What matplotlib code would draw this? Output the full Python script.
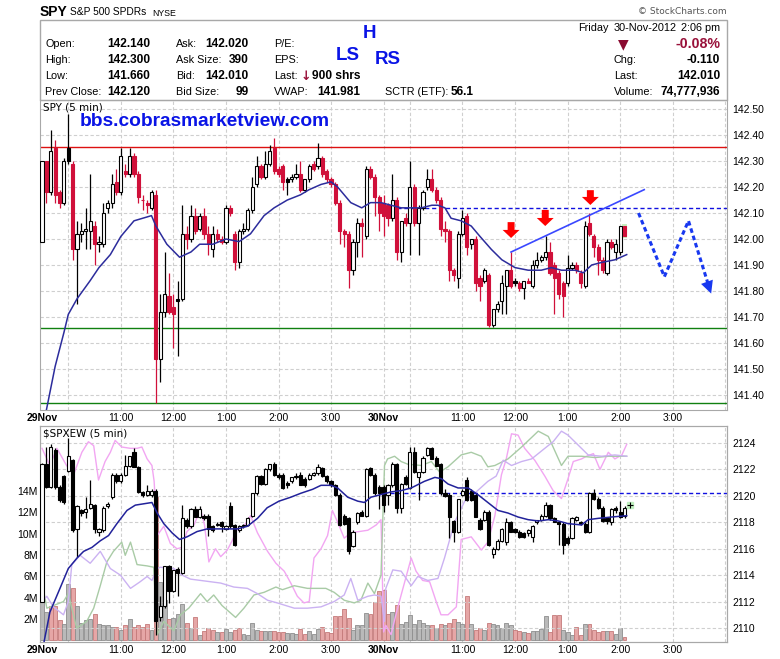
import numpy as np
import matplotlib
matplotlib.use("Agg")
import matplotlib.pyplot as plt
from matplotlib.patches import Rectangle

plt.rcParams['font.family'] = ['Liberation Sans', 'DejaVu Sans']

W, H = 780, 659

# ---- SPY 5 min candles, 29 Nov (0..77) and 30 Nov (78..133) ----
spy_open = [141.99, 142.30, 142.18, 142.35, 142.18, 142.14, 142.35, 142.29, 141.96, 142.02,
            142.03, 142.03, 142.05, 141.98, 141.98, 142.12, 142.14, 142.22, 142.18, 142.26,
            142.25, 142.32, 142.25, 142.15, 142.14, 142.12, 142.17, 141.54, 141.72, 141.78,
            141.74, 141.77, 141.77, 142.02, 142.00, 142.09, 142.04, 142.09, 142.02, 141.96,
            142.02, 142.00, 141.99, 142.12, 142.02, 141.91, 142.03, 142.04, 142.11, 142.21,
            142.28, 142.24, 142.29, 142.35, 142.27, 142.28, 142.23, 142.23, 142.24, 142.25,
            142.19, 142.23, 142.29, 142.28, 142.31, 142.26, 142.23, 142.21, 142.14, 142.03,
            142.02, 141.88, 141.99, 142.06, 142.01, 142.27, 142.24, 142.16,
            142.14, 142.13, 142.08, 142.15, 141.95, 142.08, 142.06, 142.20, 142.06, 142.12,
            142.20, 142.23, 142.19, 142.15, 142.04, 142.03, 141.88, 141.85, 142.02, 142.09,
            141.98, 142.00, 141.85, 141.84, 141.86, 141.67, 141.73, 141.76, 141.82, 141.88,
            141.84, 141.83, 141.81, 141.84, 141.82, 141.90, 141.92, 141.93, 141.95, 141.90,
            141.87, 141.83, 141.83, 141.89, 141.90, 141.87, 141.82, 142.06, 142.01, 141.97,
            141.92, 141.87, 141.99, 141.95, 141.95, 142.05]
spy_high = [142.30, 142.30, 142.42, 142.38, 142.19, 142.31, 142.48, 142.30, 142.07, 142.06,
            142.12, 142.25, 142.07, 142.01, 142.14, 142.15, 142.25, 142.27, 142.35, 142.29,
            142.35, 142.33, 142.26, 142.17, 142.15, 142.19, 142.19, 141.79, 141.95, 141.87,
            141.79, 141.84, 142.13, 142.05, 142.13, 142.12, 142.10, 142.12, 142.05, 142.05,
            142.04, 142.01, 142.13, 142.13, 142.03, 142.04, 142.06, 142.12, 142.24, 142.32,
            142.29, 142.34, 142.36, 142.39, 142.28, 142.29, 142.24, 142.25, 142.29, 142.30,
            142.23, 142.29, 142.30, 142.37, 142.32, 142.27, 142.24, 142.22, 142.15, 142.04,
            142.03, 142.00, 142.08, 142.08, 142.28, 142.28, 142.25, 142.17,
            142.17, 142.14, 142.25, 142.16, 142.07, 142.10, 142.30, 142.21, 142.13, 142.19,
            142.27, 142.27, 142.20, 142.16, 142.07, 142.04, 141.89, 142.03, 142.11, 142.10,
            142.00, 142.01, 141.86, 141.89, 141.87, 141.73, 141.76, 141.86, 141.88, 141.95,
            141.85, 141.84, 141.84, 141.85, 141.92, 141.95, 141.94, 142.01, 141.99, 141.91,
            141.88, 141.84, 141.94, 141.91, 141.91, 141.88, 142.07, 142.10, 142.02, 141.98,
            141.93, 142.00, 142.00, 142.00, 142.05, 142.05]
spy_low = [141.99, 142.14, 142.17, 142.14, 142.12, 142.13, 142.29, 141.92, 141.75, 141.99,
           141.96, 141.96, 141.90, 141.95, 141.97, 142.10, 142.12, 142.17, 142.17, 142.24,
           142.24, 142.24, 142.14, 142.11, 142.10, 142.11, 141.37, 141.45, 141.70, 141.71,
           141.58, 141.55, 141.76, 141.96, 141.99, 142.02, 142.03, 142.00, 141.94, 141.93,
           141.99, 141.98, 141.98, 142.09, 141.88, 141.89, 142.02, 142.03, 142.10, 142.20,
           142.23, 142.23, 142.28, 142.25, 142.24, 142.19, 142.17, 142.22, 142.23, 142.18,
           142.18, 142.22, 142.26, 142.27, 142.24, 142.22, 142.20, 142.13, 141.98, 141.97,
           141.81, 141.86, 141.93, 141.93, 142.00, 142.23, 142.09, 142.03,
           142.01, 142.05, 142.07, 141.92, 141.91, 142.05, 141.94, 142.05, 141.94, 142.11,
           142.19, 142.18, 142.14, 142.01, 141.99, 141.84, 141.84, 141.81, 142.01, 141.94,
           141.96, 141.80, 141.76, 141.83, 141.66, 141.66, 141.72, 141.71, 141.71, 141.81,
           141.82, 141.80, 141.77, 141.83, 141.81, 141.89, 141.91, 141.92, 141.86, 141.71,
           141.77, 141.70, 141.82, 141.88, 141.87, 141.81, 141.81, 142.01, 141.93, 141.86,
           141.87, 141.86, 141.96, 141.92, 141.94, 142.01]
spy_close = [142.30, 142.18, 142.34, 142.17, 142.14, 142.30, 142.30, 141.96, 142.02, 142.03,
             142.04, 142.07, 141.98, 141.99, 142.10, 142.14, 142.21, 142.18, 142.32, 142.25,
             142.32, 142.25, 142.16, 142.15, 142.13, 142.18, 141.54, 141.72, 141.79, 141.72,
             141.71, 141.76, 142.02, 142.00, 142.09, 142.03, 142.09, 142.02, 141.98, 142.02,
             142.00, 141.99, 142.12, 142.10, 141.91, 142.03, 142.04, 142.11, 142.20, 142.28,
             142.24, 142.29, 142.34, 142.26, 142.25, 142.22, 142.22, 142.24, 142.25, 142.19,
             142.23, 142.28, 142.27, 142.31, 142.25, 142.23, 142.21, 142.14, 142.03, 142.02,
             141.88, 141.99, 142.06, 142.05, 142.27, 142.24, 142.16, 142.10,
             142.09, 142.08, 142.15, 141.95, 142.07, 142.06, 142.20, 142.06, 142.12, 142.18,
             142.23, 142.19, 142.15, 142.04, 142.03, 141.88, 141.86, 142.02, 142.08, 141.97,
             142.00, 141.83, 141.82, 141.88, 141.67, 141.73, 141.75, 141.83, 141.88, 141.82,
             141.83, 141.81, 141.84, 141.83, 141.90, 141.92, 141.93, 141.95, 141.87, 141.85,
             141.79, 141.78, 141.89, 141.90, 141.88, 141.83, 142.05, 142.02, 141.97, 141.92,
             141.88, 141.99, 141.97, 141.98, 142.05, 142.01]
spy_prev_close = 142.12

# moving average (bar index, price)
spy_ma_x = [0.5, 3, 5, 6, 8, 11, 13, 15.6, 18, 21, 23, 25, 26, 28.5, 31.4, 34, 36, 39, 42, 45,
            47.6, 50.7, 53, 56, 59, 61, 63.7, 66, 67.5, 70.5, 73, 75, 77.4, 79.7, 82, 86.6, 89,
            90.4, 92, 93.4, 95.7, 98, 100, 102.6, 105, 108, 111, 114, 116.3, 118.6, 121.7,
            123.6, 125.5, 127.8, 130.8, 133.5]
spy_ma_y = [141.30, 141.51, 141.64, 141.71, 141.77, 141.84, 141.89, 141.94, 142.01, 142.07,
            142.08, 142.09, 142.05, 141.98, 141.93, 141.95, 141.98, 141.98, 142.00, 141.99,
            142.02, 142.09, 142.12, 142.15, 142.17, 142.19, 142.21, 142.22, 142.20, 142.14,
            142.12, 142.14, 142.14, 142.13, 142.12, 142.12, 142.13, 142.13, 142.12, 142.08,
            142.07, 142.05, 142.01, 141.96, 141.92, 141.89, 141.88, 141.88, 141.89, 141.88,
            141.88, 141.87, 141.90, 141.91, 141.92, 141.94]

# reference levels
resist_level = 142.353
low_level = 141.656
day_low_level = 141.368

# annotations drawn on the chart
trend_x = [107.1, 137.5]
trend_y = [141.95, 142.19]
proj_x = [136.2, 142.1, 147.6, 153.0]
proj_y = [142.10, 141.855, 142.07, 141.78]
arrow_x = [107.1, 114.9, 125.2]
arrow_top = [142.065, 142.112, 142.188]
arrow_tip = [142.004, 142.05, 142.131]

# ---- $SPXEW 5 min candles ----
ew_open = [2112.0, 2122.4, 2120.7, 2123.5, 2120.7, 2121.5, 2121.9, 2122.7, 2117.5, 2118.9,
           2118.8, 2119.1, 2119.3, 2117.3, 2117.4, 2119.2, 2119.9, 2121.6, 2121.1, 2121.6,
           2122.3, 2123.3, 2122.2, 2120.3, 2120.1, 2120.1, 2120.4, 2110.8, 2111.7, 2114.7,
           2112.8, 2114.5, 2114.2, 2118.2, 2117.7, 2119.0, 2118.4, 2118.5, 2118.5, 2117.7,
           2117.8, 2118.0, 2117.5, 2119.2, 2117.8, 2117.4, 2117.7, 2117.8, 2118.5, 2120.2,
           2121.5, 2120.9, 2122.0, 2122.4, 2121.6, 2121.6, 2121.0, 2121.1, 2121.4, 2121.6,
           2121.3, 2121.3, 2121.6, 2121.7, 2122.1, 2121.5, 2121.1, 2120.8, 2120.1, 2118.5,
           2118.3, 2116.2, 2118.0, 2118.8, 2118.5, 2122.1, 2121.6, 2120.7,
           2120.7, 2120.1, 2120.8, 2122.4, 2119.1, 2121.4, 2120.6, 2123.3, 2121.4, 2121.8,
           2123.1, 2123.6, 2122.9, 2122.4, 2120.2, 2120.1, 2118.1, 2117.3, 2120.1, 2121.2,
           2120.4, 2120.1, 2118.2, 2118.2, 2118.8, 2115.6, 2116.0, 2116.6, 2116.5, 2118.0,
           2117.5, 2117.3, 2117.2, 2117.2, 2116.9, 2118.0, 2118.2, 2118.5, 2119.3, 2118.3,
           2118.0, 2117.9, 2116.8, 2116.8, 2118.2, 2118.0, 2117.9, 2117.3, 2120.2, 2119.8,
           2119.1, 2118.3, 2118.0, 2119.1, 2118.8, 2118.5]
ew_high = [2122.5, 2123.7, 2123.9, 2123.6, 2120.8, 2121.6, 2124.4, 2122.8, 2119.3, 2119.0,
           2119.9, 2121.2, 2119.4, 2117.6, 2119.2, 2119.5, 2121.7, 2121.7, 2121.7, 2123.1,
           2123.0, 2123.6, 2122.3, 2120.4, 2120.8, 2120.5, 2120.5, 2112.4, 2114.7, 2114.8,
           2114.4, 2114.6, 2119.3, 2118.3, 2119.1, 2119.2, 2119.2, 2118.6, 2118.6, 2117.8,
           2118.0, 2118.1, 2117.8, 2119.5, 2117.9, 2117.8, 2117.9, 2118.4, 2120.2, 2121.6,
           2121.6, 2122.1, 2122.4, 2122.6, 2121.7, 2121.7, 2121.1, 2121.4, 2121.7, 2121.8,
           2121.4, 2121.7, 2121.8, 2122.4, 2122.2, 2121.6, 2121.2, 2120.9, 2120.2, 2118.6,
           2118.4, 2117.4, 2118.8, 2118.9, 2122.1, 2122.2, 2121.7, 2120.8,
           2120.8, 2120.9, 2122.6, 2122.5, 2121.0, 2121.6, 2123.7, 2123.7, 2121.8, 2123.0,
           2123.7, 2123.7, 2123.0, 2122.5, 2120.5, 2120.2, 2118.2, 2119.8, 2120.5, 2121.4,
           2120.5, 2120.2, 2118.3, 2118.9, 2118.9, 2116.1, 2116.7, 2117.6, 2118.3, 2118.1,
           2117.6, 2117.4, 2117.3, 2117.5, 2117.8, 2118.2, 2118.6, 2119.5, 2119.4, 2118.4,
           2118.1, 2118.0, 2117.0, 2118.4, 2118.5, 2118.1, 2118.0, 2120.3, 2120.5, 2119.9,
           2119.2, 2118.4, 2119.1, 2119.2, 2119.6, 2119.2]
ew_low = [2112.0, 2120.6, 2120.6, 2120.5, 2119.5, 2119.4, 2121.8, 2117.3, 2115.4, 2118.5,
          2118.3, 2119.0, 2117.2, 2117.0, 2117.3, 2119.1, 2119.8, 2121.0, 2121.0, 2121.5,
          2122.2, 2122.2, 2120.2, 2119.9, 2120.0, 2119.9, 2109.5, 2110.5, 2111.5, 2111.9,
          2112.7, 2112.4, 2114.1, 2117.6, 2117.6, 2118.4, 2118.3, 2118.2, 2117.0, 2117.3,
          2117.7, 2117.3, 2117.4, 2117.6, 2116.2, 2117.3, 2117.6, 2117.7, 2118.4, 2120.1,
          2120.8, 2120.8, 2121.9, 2121.5, 2121.3, 2120.5, 2120.6, 2121.0, 2121.3, 2120.8,
          2120.7, 2121.2, 2121.5, 2121.6, 2121.4, 2121.0, 2120.7, 2120.0, 2117.7, 2117.8,
          2115.6, 2116.1, 2117.9, 2118.5, 2118.4, 2121.5, 2120.1, 2119.0,
          2118.8, 2119.3, 2120.7, 2118.7, 2118.7, 2120.8, 2120.5, 2121.7, 2119.7, 2121.7,
          2123.0, 2122.8, 2122.3, 2120.1, 2119.9, 2116.8, 2116.5, 2117.2, 2120.0, 2119.6,
          2119.6, 2118.4, 2117.4, 2118.1, 2116.2, 2115.3, 2115.9, 2116.5, 2116.3, 2117.3,
          2117.2, 2116.8, 2116.8, 2117.0, 2116.5, 2117.9, 2118.1, 2118.4, 2118.2, 2118.0,
          2116.3, 2115.6, 2116.3, 2116.7, 2118.1, 2117.8, 2117.2, 2117.2, 2119.7, 2119.0,
          2118.0, 2117.9, 2117.8, 2118.7, 2118.3, 2118.3]
ew_close = [2122.4, 2120.7, 2123.7, 2120.7, 2119.7, 2119.5, 2123.0, 2117.4, 2119.2, 2118.7,
            2119.0, 2119.4, 2117.5, 2117.5, 2119.1, 2119.4, 2121.6, 2121.1, 2121.6, 2122.3,
            2123.0, 2122.2, 2120.3, 2120.1, 2120.4, 2120.4, 2110.5, 2111.7, 2114.7, 2112.8,
            2114.4, 2114.2, 2118.3, 2117.7, 2119.0, 2118.4, 2119.0, 2118.3, 2117.5, 2117.4,
            2117.9, 2117.7, 2117.7, 2117.7, 2116.3, 2117.7, 2117.8, 2118.3, 2120.2, 2121.5,
            2120.9, 2122.0, 2122.4, 2121.6, 2121.4, 2120.6, 2120.8, 2121.4, 2121.5, 2120.8,
            2120.8, 2121.6, 2121.7, 2122.2, 2121.5, 2121.1, 2120.8, 2120.1, 2117.8, 2117.9,
            2115.8, 2117.3, 2118.7, 2118.5, 2122.0, 2121.6, 2120.2, 2120.2,
            2119.3, 2120.8, 2122.4, 2119.1, 2120.9, 2120.9, 2123.3, 2121.8, 2121.8, 2122.9,
            2123.6, 2122.8, 2122.3, 2120.2, 2120.0, 2118.4, 2117.3, 2119.8, 2120.4, 2119.7,
            2119.7, 2118.4, 2117.5, 2118.8, 2116.3, 2116.0, 2116.6, 2117.5, 2118.0, 2117.3,
            2117.3, 2116.9, 2116.9, 2117.4, 2117.7, 2118.2, 2118.5, 2119.3, 2118.3, 2118.0,
            2117.9, 2116.3, 2116.4, 2118.3, 2118.4, 2117.9, 2117.3, 2120.2, 2119.8, 2119.1,
            2118.1, 2118.1, 2119.0, 2118.9, 2118.4, 2119.1]

ew_ma_x = [0.2, 1.8, 4.1, 6, 8, 9.5, 11.4, 13.3, 15.2, 17.1, 19.4, 21.3, 23.2, 25.1, 26.3, 27.8,
           29.7, 31.4, 33.1, 35.4, 37.7, 40, 42.3, 44.6, 46.9, 49.2, 51.4, 54.1, 56.8, 59.1, 61.8,
           63.7, 66, 67.5, 69.8, 72.1, 73.6, 75.1, 77.4, 79.7, 82, 84.3, 87.3, 89.7, 91.2, 92.7,
           95, 97.3, 99.5, 101.8, 104.1, 106.4, 108.7, 111, 113.3, 115.6, 117.9, 120.1, 123.2,
           124.7, 127, 130, 133.5]
ew_ma_y = [2108.5, 2111.2, 2113.0, 2114.5, 2115.3, 2115.8, 2116.1, 2116.6, 2117.0, 2117.9,
           2118.9, 2119.3, 2119.4, 2119.5, 2118.7, 2117.9, 2117.2, 2116.7, 2116.9, 2117.3,
           2117.5, 2117.5, 2117.5, 2117.5, 2117.7, 2118.3, 2119.1, 2119.6, 2119.9, 2120.2,
           2120.5, 2120.8, 2120.8, 2120.6, 2119.9, 2119.6, 2119.5, 2119.9, 2120.1, 2120.3,
           2120.4, 2120.6, 2121.1, 2121.4, 2121.3, 2120.9, 2120.6, 2120.6, 2120.1, 2119.5,
           2118.9, 2118.7, 2118.4, 2118.2, 2118.1, 2118.2, 2118.1, 2117.9, 2117.8, 2118.2,
           2118.3, 2118.4, 2118.5]
ew_prev_level = 2120.19

# faint overlay lines in the lower panel (bar index, value on the right scale)
pink_x = [0, 1.8, 3.4, 5.6, 7.2, 9.1, 10.6, 11.8, 12.9, 14.4, 15.6, 16.7, 18.2, 20.2, 21.7, 22.8,
          24.0, 25.1, 25.6, 26.3, 27.8, 29.3, 30.8, 32.0, 33.1, 34.7, 36.2, 37.1, 38.1, 39.6,
          40.8, 42.3, 43.4, 44.6, 46.1, 47.6, 49.2, 51.5, 53.4, 55.3, 56.8, 58.3, 59.8, 61.0,
          62.1, 63.7, 65.2, 66.3, 67.5, 69.0, 70.5, 72.4, 74.4, 76.3, 77.4, 78.0, 78.5, 79.7,
          80.8, 82.0, 84.3, 85.4, 86.9, 88.5, 90.0, 91.1, 92.7, 94.6, 95.7, 98.0, 100.3, 101.8,
          103.4, 104.9, 106.0, 107.2, 108.7, 110.2, 112.5, 114.8, 116.7, 118.6, 120.1, 121.3,
          123.2, 124.3, 125.9, 127.4, 129.3, 130.8, 132.4, 133.5]
pink_y = [2123.6, 2122.3, 2123.6, 2122.3, 2121.6, 2123.3, 2124.1, 2123.8, 2121.2, 2122.6,
          2123.3, 2124.2, 2123.7, 2123.6, 2123.6, 2123.7, 2122.8, 2122.3, 2121.1, 2117.0,
          2117.7, 2116.4, 2116.0, 2116.1, 2117.3, 2117.8, 2119.0, 2117.8, 2115.0, 2116.0,
          2115.4, 2115.9, 2116.6, 2117.5, 2117.7, 2118.5, 2117.2, 2115.8, 2114.9, 2114.3,
          2113.4, 2112.4, 2111.9, 2112.0, 2115.3, 2116.0, 2117.0, 2118.9, 2118.0, 2116.8,
          2117.2, 2117.3, 2117.4, 2117.8, 2118.2, 2109.7, 2110.2, 2109.5, 2111.0, 2112.5,
          2115.3, 2114.3, 2113.6, 2113.5, 2112.0, 2111.0, 2111.0, 2111.6, 2116.7, 2116.9,
          2115.9, 2116.5, 2118.5, 2121.6, 2122.8, 2124.7, 2124.6, 2123.6, 2122.7, 2121.5,
          2120.4, 2119.8, 2121.3, 2122.6, 2122.8, 2123.0, 2123.2, 2122.0, 2123.3, 2122.8,
          2123.1, 2123.9]
green_x = [0, 1.1, 4.9, 6.0, 7.9, 10.2, 11.8, 13.3, 14.8, 16.3, 18.2, 19.0, 20.2, 21.7, 24.0,
           25.5, 26.3, 27.8, 30.1, 31.6, 33.5, 36.2, 37.7, 39.2, 41.1, 44.2, 46.1, 48.4, 50.7,
           53.4, 54.9, 57.6, 60.6, 64.8, 66.7, 69.0, 71.3, 72.8, 74.4, 75.9, 77.4, 78.2, 78.9,
           80.5, 82.0, 83.5, 86.6, 88.9, 90.8, 92.7, 95.7, 98.0, 100.3, 101.8, 103.4, 106.4,
           109.5, 113.3, 115.6, 118.6, 120.1, 123.2, 126.3, 129.3, 133.5]
green_y = [2113.5, 2111.5, 2112.0, 2112.6, 2110.0, 2110.5, 2111.5, 2113.2, 2115.0, 2115.8,
           2116.5, 2115.5, 2116.5, 2114.8, 2114.7, 2114.6, 2109.5, 2110.5, 2109.8, 2111.0,
           2111.5, 2112.6, 2112.0, 2112.5, 2111.7, 2110.8, 2111.5, 2112.5, 2112.7, 2113.1,
           2112.9, 2113.2, 2113.0, 2113.0, 2112.7, 2112.1, 2111.9, 2112.1, 2113.4, 2112.6,
           2114.0, 2122.3, 2122.8, 2123.0, 2122.6, 2122.4, 2122.3, 2122.6, 2121.8, 2122.2,
           2123.1, 2123.3, 2123.0, 2122.2, 2122.3, 2122.8, 2123.7, 2124.9, 2124.5, 2122.3,
           2123.0, 2123.0, 2122.9, 2123.0, 2123.0]
purple_x = [0, 1.1, 2.6, 4.9, 6.0, 6.8, 8.7, 11.0, 13.3, 15.6, 17.9, 20.2, 22.4, 24.0, 25.1,
            26.3, 27.0, 30.1, 32.0, 33.9, 36.2, 38.5, 40.8, 43.8, 46.9, 49.2, 51.5, 53.7, 57.6,
            60.6, 63.7, 66.7, 69.0, 70.5, 72.1, 74.4, 75.9, 77.4, 78.2, 78.5, 80.1, 82.0, 84.3,
            85.8, 88.1, 90.4, 91.9, 94.2, 96.5, 98.8, 101.8, 103.7, 105.3, 107.2, 109.5, 111.8,
            114.8, 116.7, 118.6, 120.1, 122.4, 124.7, 127.8, 130.8, 133.5]
purple_y = [2112.0, 2112.4, 2111.6, 2111.0, 2112.0, 2114.8, 2115.5, 2114.9, 2115.8, 2114.5,
            2114.0, 2113.0, 2113.5, 2113.9, 2113.6, 2114.5, 2114.6, 2114.5, 2114.0, 2113.7,
            2113.6, 2113.5, 2113.4, 2113.1, 2113.0, 2112.6, 2112.1, 2111.9, 2111.5, 2111.5,
            2111.6, 2112.0, 2112.5, 2113.75, 2112.1, 2112.4, 2112.5, 2112.4, 2110.5, 2113.0,
            2114.4, 2114.3, 2113.2, 2113.9, 2113.6, 2113.75, 2115.3, 2118.0, 2119.6, 2120.2,
            2121.1, 2121.5, 2122.7, 2122.3, 2122.6, 2122.8, 2123.6, 2124.1, 2124.9, 2124.6,
            2123.85, 2123.1, 2123.0, 2123.1, 2123.0]

# volume in millions, r = down bar, g = up bar
volume = [4.6, 2.7, 3.2, 3.2, 1.9, 1.5, 5.3, 4.9, 3.25, 1.6,
          1.9, 2.0, 2.5, 1.5, 1.4, 1.4, 1.25, 1.25, 1.0, 1.4,
          2.0, 1.25, 1.4, 1.25, 1.5, 1.0, 13.5, 5.5, 3.75, 2.0,
          2.1, 2.5, 3.4, 1.6, 1.2, 2.2, 0.5, 0.9, 1.2, 1.0,
          0.8, 0.8, 1.1, 0.8, 1.0, 1.2, 0.6, 0.5, 1.6, 1.0,
          0.9, 0.9, 0.9, 0.9, 0.8, 0.8, 0.7, 0.7, 0.6, 1.1,
          0.6, 0.9, 0.6, 1.1, 1.25, 0.8, 0.7, 2.3, 2.3, 2.9,
          2.1, 1.0, 1.4, 1.4, 2.6, 2.5, 3.6, 4.6,
          4.7, 2.5, 2.65, 3.3, 1.5, 1.7, 2.4, 1.5, 1.9, 1.6,
          1.4, 1.4, 1.2, 1.55, 1.4, 1.6, 2.0, 1.7, 1.55, 4.2,
          1.5, 0.95, 1.2, 0.95, 1.6, 1.5, 1.4, 1.2, 1.6, 1.45,
          0.95, 0.9, 0.8, 0.7, 0.9, 0.9, 1.1, 2.3, 0.8, 2.4,
          2.4, 0.95, 0.8, 0.55, 1.25, 0.5, 1.55, 1.55, 1.0, 0.8,
          0.9, 0.9, 0.9, 0.6, 1.2, 0.3]
volume_dir = ("ggrrrggrgg" "ggrggggrgr" "grrrrgrggr" "gggrgrgrrr" "grggrrgggg"
              "rggrrrgggr" "rgggrrrrrr" "rggggrrr"
              "rrgrgggggg" "grgrgrrggr" "grrgrggggg" "rrgrggggrr" "rgggrrgrrr" "rgrggr")

# x axis: bar index of each label / grid line
tick_pos = [0, 18, 30, 42, 54, 66, 78, 96, 108, 120, 132, 144]
tick_lab = ['29Nov', '11:00', '12:00', '1:00', '2:00', '3:00', '30Nov',
            '11:00', '12:00', '1:00', '2:00', '3:00']
grid_pos = [6, 18, 30, 42, 54, 66, 78, 84, 96, 108, 120, 132, 144, 156]

n = len(spy_close)
assert all(len(a) == n for a in [spy_open, spy_high, spy_low, ew_open, ew_high, ew_low,
                                  ew_close, volume]) and len(volume_dir) == n

RED = '#d0103a'
GRID = '#cfcfcf'
FRAME = '#a8a8a8'


def fx(px):
    return px / W


def fy(py):
    return 1 - py / H


def draw_candles(ax, o, h, l, c, colors, zorder=3):
    x = np.arange(len(o))
    o, h, l, c = map(np.asarray, (o, h, l, c))
    ax.vlines(x, l, h, colors=colors, lw=0.9, zorder=zorder)
    face = [col if cl < op else 'white' for col, op, cl in zip(colors, o, c)]
    ax.bar(x, np.abs(c - o), 0.72, bottom=np.minimum(o, c), color=face,
           edgecolor=colors, linewidth=0.8, zorder=zorder + 0.1)


def style_axes(a):
    for s in a.spines.values():
        s.set_color(FRAME)
    a.set_xlim(-0.46, 156.4)
    a.set_xticks(tick_pos)
    a.set_xticklabels(tick_lab)
    a.tick_params(axis='x', length=0, pad=2, labelsize=7.5)
    for t in a.get_xticklabels():
        if 'Nov' in t.get_text():
            t.set_fontweight('bold')
    for g in grid_pos:
        a.axvline(g, color=GRID, lw=0.8, ls=(0, (3, 2)), zorder=0)


fig = plt.figure(figsize=(7.8, 6.59), dpi=100)

# ---------------- main panel ----------------
ax = fig.add_axes([fx(40), fy(410), fx(727) - fx(40), fy(100) - fy(410)])
style_axes(ax)
ax.set_ylim(141.342, 142.535)
ax.yaxis.tick_right()
yt = np.round(np.arange(141.40, 142.501, 0.10), 2)
ax.set_yticks(yt)
ax.set_yticklabels(['%.2f' % v for v in yt])
ax.tick_params(axis='y', length=0, pad=4, labelsize=7.5)
for v in yt:
    ax.axhline(v, color=GRID, lw=0.8, ls=(0, (3, 2)), zorder=0)

ax.axhline(resist_level, color='#dd1111', lw=1, zorder=1)
ax.axhline(low_level, color='#108010', lw=1, zorder=1)
ax.axhline(day_low_level, color='#108010', lw=1, zorder=1)
ax.hlines(spy_prev_close, 77.9, 156.4, color='#1010e0', lw=1, ls=(0, (3, 2)), zorder=1)

prev = [spy_prev_close] + spy_close[:-1]
spy_cols = [RED if c < p else 'black' for c, p in zip(spy_close, prev)]
ax.bar(n - 1, spy_high[-1] - spy_low[-1] + 0.012, 1.2, bottom=spy_low[-1] - 0.006,
       color='#c8f0c0', zorder=2)
draw_candles(ax, spy_open, spy_high, spy_low, spy_close, spy_cols)
ax.plot(spy_ma_x, spy_ma_y, color='#2c2c9c', lw=1.1, zorder=4)

ax.plot(trend_x, trend_y, color='#3a48ff', lw=1.2, zorder=5)
ax.plot(proj_x[:-1] + [proj_x[-1] - 0.6], proj_y[:-1] + [proj_y[-1] + 0.03],
        color='#1838f0', lw=2.2, ls=(0, (1.5, 1.0)), zorder=5)
ax.annotate('', xy=(proj_x[-1], proj_y[-1]), xytext=(proj_x[-1] - 1.6, proj_y[-1] + 0.075),
            arrowprops=dict(arrowstyle='-|>,head_width=0.45,head_length=0.9',
                            color='#1838f0', lw=0), zorder=6)
for xa, yt0, yt1 in zip(arrow_x, arrow_top, arrow_tip):
    ax.annotate('', xy=(xa, yt1), xytext=(xa, yt0),
                arrowprops=dict(arrowstyle='simple,head_width=1.22,head_length=0.58,tail_width=0.5',
                                color='#ff0000', lw=0, mutation_scale=10,
                                shrinkA=0, shrinkB=0), zorder=6)

# ---------------- lower panel ----------------
axv = fig.add_axes([fx(40), fy(642), fx(727) - fx(40), fy(426) - fy(642)])
style_axes(axv)
axv.set_ylim(-0.15, 20.1)
axv.set_yticks([2, 4, 6, 8, 10, 12, 14])
axv.set_yticklabels(['%dM' % v for v in [2, 4, 6, 8, 10, 12, 14]])
axv.tick_params(axis='y', length=0, pad=1.5, labelsize=7.5)
vface = ['#e6a6a6' if d == 'r' else '#b9b9b9' for d in volume_dir]
vedge = ['#c47a7a' if d == 'r' else '#8e8e8e' for d in volume_dir]
axv.bar(np.arange(n), volume, 0.9, color=vface, edgecolor=vedge, linewidth=0.6, zorder=1)

axp = axv.twinx()
axp.set_xlim(-0.46, 156.4)
axp.set_ylim(2108.94, 2125.29)
pt = list(range(2110, 2125, 2))
axp.set_yticks(pt)
axp.set_yticklabels([str(v) for v in pt])
axp.tick_params(axis='y', length=0, pad=4, labelsize=7.5)
for s in axp.spines.values():
    s.set_color(FRAME)
for v in pt:
    axp.axhline(v, color=GRID, lw=0.8, ls=(0, (3, 2)), zorder=0)

axp.plot(pink_x, pink_y, color='#f2a6f2', lw=1.0, zorder=2)
axp.plot(green_x, green_y, color='#a9cba6', lw=1.0, zorder=2)
axp.plot(purple_x, purple_y, color='#cbb2f2', lw=1.0, zorder=2)
axp.hlines(ew_prev_level, 77.9, 156.4, color='#1010e0', lw=1, ls=(0, (3, 2)), zorder=2)
draw_candles(axp, ew_open, ew_high, ew_low, ew_close, ['black'] * n)
axp.plot(ew_ma_x, ew_ma_y, color='#22229a', lw=1.1, zorder=4)
axp.plot([n + 0.2], [2119.3], marker='s', ms=5, color='#bff0bf', zorder=5)
axp.plot([n + 0.2], [2119.3], marker='+', ms=4, color='black', mew=0.8, zorder=6)

fig.text(fx(43), fy(107), 'SPY (5 min)', fontsize=7.5, family='DejaVu Sans', va='center')
fig.text(fx(43), fy(433), '$SPXEW (5 min)', fontsize=7.5, family='DejaVu Sans', va='center')
fig.text(fx(80), fy(121), 'bbs.cobrasmarketview.com', fontsize=13.8, weight='bold',
         color='#0a14e6', va='center')
for txt, px, py in [('LS', 348, 55), ('H', 369, 33), ('RS', 388, 59)]:
    fig.text(fx(px), fy(py), txt, fontsize=13.5, weight='bold', color='#0a14e6',
             ha='center', va='center')

# ---------------- header ----------------
fig.patches.append(Rectangle((fx(40), fy(100)), fx(727) - fx(40), fy(20) - fy(100),
                             transform=fig.transFigure, fill=False, edgecolor=FRAME, lw=1))
fig.text(fx(40), fy(12), 'SPY', fontsize=10, weight='bold', va='center')
fig.text(fx(70), fy(12), 'S&P 500 SPDRs', fontsize=7.3, va='center')
fig.text(fx(152), fy(13), 'NYSE', fontsize=6.3, va='center')
fig.text(fx(727), fy(11), '\u00a9 StockCharts.com', fontsize=6.5, family='DejaVu Sans',
         color='#555555', ha='right', va='center')

rows = [44, 60, 76, 92]
lab1 = ['Open:', 'High:', 'Low:', 'Prev Close:']
val1 = ['142.140', '142.300', '141.660', '142.120']
lab2 = ['Ask:', 'Ask Size:', 'Bid:', 'Bid Size:']
val2 = ['142.020', '390', '142.010', '99']
lab3 = ['P/E:', 'EPS:', 'Last:', 'VWAP:']
for r, a, b, c2, d, e in zip(rows, lab1, val1, lab2, val2, lab3):
    fig.text(fx(45), fy(r), a, fontsize=7.8, va='center')
    fig.text(fx(107), fy(r), b, fontsize=8.6, weight='bold', va='center')
    fig.text(fx(176), fy(r), c2, fontsize=7.8, va='center')
    fig.text(fx(249), fy(r), d, fontsize=8.6, weight='bold', va='center', ha='right')
    fig.text(fx(274), fy(r), e, fontsize=7.8, va='center')
fig.text(fx(306), fy(77), '\u2193', fontsize=9, weight='bold', family='DejaVu Sans',
         color='#99113a', ha='center', va='center')
fig.text(fx(360), fy(76), '900 shrs', fontsize=8.6, weight='bold', va='center', ha='right')
fig.text(fx(360), fy(92), '141.981', fontsize=8.6, weight='bold', va='center', ha='right')
fig.text(fx(385), fy(92), 'SCTR (ETF):', fontsize=7.8, va='center')
fig.text(fx(451), fy(92), '56.1', fontsize=8.6, weight='bold', va='center')

fig.text(fx(578), fy(28), 'Friday', fontsize=7.8, va='center')
fig.text(fx(614), fy(28), '30-Nov-2012', fontsize=7.8, va='center')
fig.text(fx(720), fy(28), '2:06 pm', fontsize=7.8, va='center', ha='right')
fig.text(fx(623.5), fy(44), '\u25bc', fontsize=10, family='DejaVu Sans', color='#8a0a30',
         ha='center', va='center')
fig.text(fx(720), fy(44), '-0.08%', fontsize=10.2, weight='bold', color='#99113a',
         va='center', ha='right')
for r, a, b in zip([60, 76, 92], ['Chg:', 'Last:', 'Volume:'],
                   ['-0.110', '142.010', '74,777,936']):
    fig.text(fx(614), fy(r), a, fontsize=7.8, va='center')
    fig.text(fx(720), fy(r), b, fontsize=8.6, weight='bold', va='center', ha='right')

fig.savefig('out.png', dpi=100)
